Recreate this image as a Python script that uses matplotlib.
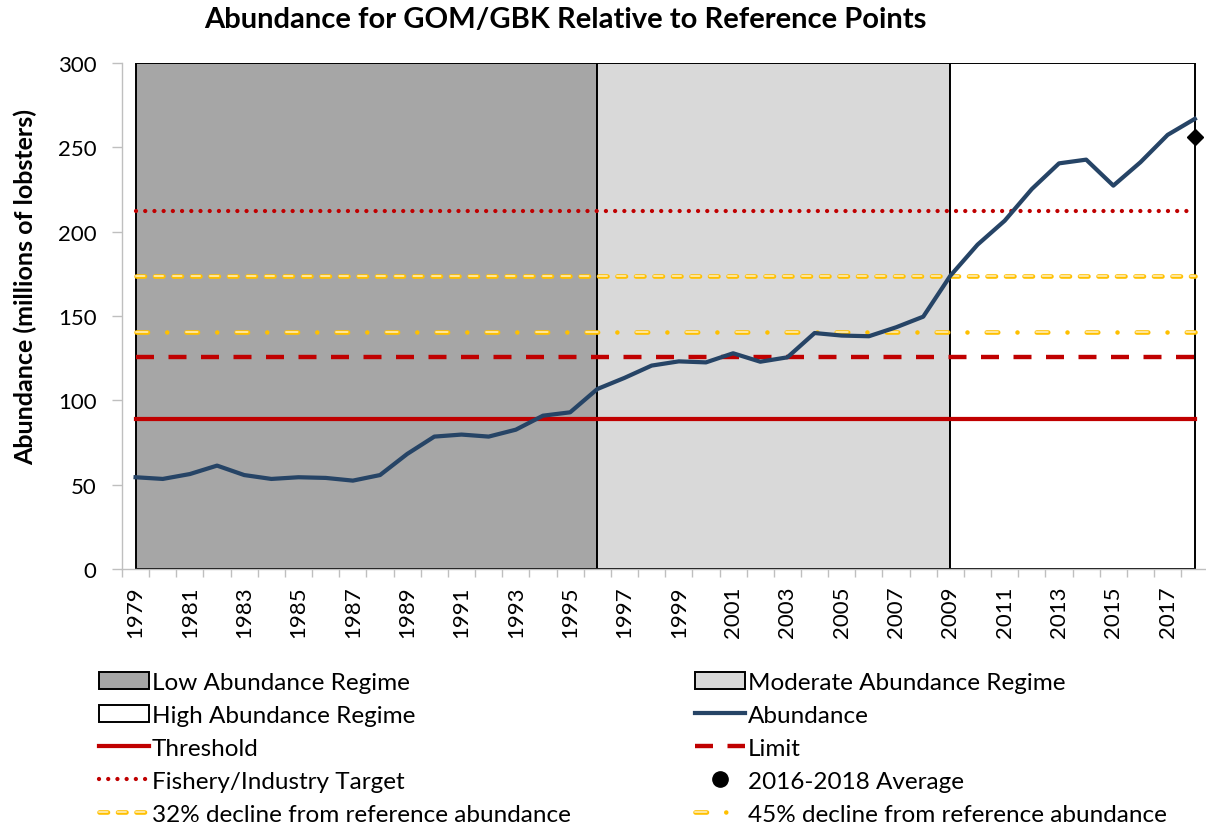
import matplotlib
matplotlib.use("Agg")
import matplotlib.pyplot as plt
from matplotlib.lines import Line2D
from matplotlib.patches import Patch
import numpy as np

plt.rcParams['font.family'] = ['Lato', 'DejaVu Sans']
plt.rcParams['lines.scale_dashes'] = False

# ---------------- data ----------------
years = list(range(1979, 2019))
abundance = [54.4, 53.4, 56.3, 61.3, 55.7, 53.4, 54.4, 54.0, 52.4, 55.7,
             68.2, 78.5, 79.7, 78.5, 82.6, 90.9, 92.9, 106.7, 113.3, 120.6,
             123.1, 122.5, 127.9, 122.9, 125.5, 139.9, 138.4, 138.0, 143.3, 149.6,
             173.9, 192.3, 206.5, 225.3, 240.5, 242.7, 227.3, 241.2, 257.4, 266.9]
threshold = 88.9
limit = 125.5
target = 212.3
decline32 = 173.9
decline45 = 140.7
avg_year = 2018
avg_value = 256.0

regime_names = ["Low Abundance Regime", "Moderate Abundance Regime", "High Abundance Regime"]
regime_start = [1979, 1996, 2009]
regime_end = [1996, 2009, 2018]
regime_colors = ['#a6a6a6', '#d9d9d9', '#ffffff']

yticks = [0, 50, 100, 150, 200, 250, 300]
xtick_labels = [str(y) for y in range(1979, 2018, 2)]

title = "Abundance for GOM/GBK Relative to Reference Points"
ylabel = "Abundance (millions of lobsters)"

# ---------------- style ----------------
NAVY = '#264466'
RED = '#c00000'
YEL = '#ffc000'
YEL_IN = '#ffe699'
GRAY = '#bfbfbf'
px = 72 / 100.0  # points per pixel

W, H = 1206, 828
fig = plt.figure(figsize=(W / 100, H / 100), dpi=100)
ax = fig.add_axes([122 / W, 1 - 570 / H, (W - 122) / W + 0.002, (570 - 64) / H])

# regime boxes
for s, e, c in zip(regime_start, regime_end, regime_colors):
    ax.bar(s, 300, width=e - s, align='edge', color=c, edgecolor='black',
           linewidth=1.4, zorder=1)

xs = np.array([years[0], years[-1]])

# 32% decline (hollow dashes)
lw_o, lw_i = 4.6 * px, 2.0 * px
pat32 = (0, (8.5 * px, 10.0 * px))
l32o, = ax.plot(xs, [decline32] * 2, color=YEL, lw=lw_o, linestyle=pat32,
                dash_capstyle='round', zorder=3)
l32i, = ax.plot(xs, [decline32] * 2, color=YEL_IN, lw=lw_i, linestyle=pat32,
                dash_capstyle='round', zorder=3)
# 45% decline (hollow dash + dot)
pat45o = (0, (11.5 * px, 19.25 * px, 0.01, 19.25 * px))
pat45i = (0, (11.5 * px, 38.5 * px + 0.01))
l45o, = ax.plot(xs, [decline45] * 2, color=YEL, lw=lw_o, linestyle=pat45o,
                dash_capstyle='round', zorder=3)
l45i, = ax.plot(xs, [decline45] * 2, color=YEL_IN, lw=lw_i, linestyle=pat45i,
                dash_capstyle='round', zorder=3)

# target dotted
ltar, = ax.plot(xs, [target] * 2, color=RED, lw=4.3 * px,
                linestyle=(0, (0.01, 9.2 * px)), dash_capstyle='round', zorder=3)
# limit dashed
llim, = ax.plot(xs, [limit] * 2, color=RED, lw=4.4 * px,
                linestyle=(0, (18 * px, 14.5 * px)), zorder=3)
# threshold
lthr, = ax.plot(xs, [threshold] * 2, color=RED, lw=4.2 * px, zorder=3)

# abundance
labn, = ax.plot(years, abundance, color=NAVY, lw=4.2 * px, zorder=4,
                solid_joinstyle='round')
# average marker
ax.plot([avg_year], [avg_value], marker='D', color='black', ms=8.2, ls='none',
        zorder=5, clip_on=False)

ax.set_xlim(1978.5, 2018.5)
ax.set_ylim(0, 300)

ax.set_yticks(yticks)
ax.set_yticklabels([str(v) for v in yticks])
ax.tick_params(axis='y', length=10 * px, width=1, color=GRAY, pad=11.0,
               labelsize=16, direction='out')

ax.set_xticks(list(range(1979, 2018, 2)))
ax.set_xticklabels(xtick_labels, rotation=90)
ax.set_xticks(np.arange(1978.5, 2019, 1.0), minor=True)
ax.tick_params(axis='x', which='major', length=0, pad=12, labelsize=16)
ax.tick_params(axis='x', which='minor', length=8 * px, width=1, color=GRAY,
               direction='out')

for sp in ['top', 'right']:
    ax.spines[sp].set_visible(False)
for sp in ['left', 'bottom']:
    ax.spines[sp].set_color(GRAY)
    ax.spines[sp].set_linewidth(1)
ax.set_facecolor('white')

fig.text(565 / W, 1 - 20 / H, title, ha='center', va='center',
         fontsize=21, fontweight='bold')
fig.text(25 / W, 1 - 287 / H, ylabel, ha='center', va='center', rotation=90,
         fontsize=18, fontweight='bold')

# ---------------- legends ----------------
p_low = Patch(facecolor=regime_colors[0], edgecolor='black', linewidth=1.4)
p_mod = Patch(facecolor=regime_colors[1], edgecolor='black', linewidth=1.4)
p_high = Patch(facecolor=regime_colors[2], edgecolor='black', linewidth=1.4)
h_avg = Line2D([], [], marker='o', color='black', ls='none', ms=11)

leg_kw = dict(frameon=False, fontsize=17.5, handlelength=2.06, handletextpad=0.12,
              labelspacing=0.49, borderpad=0, borderaxespad=0, loc='upper left',
              bbox_transform=fig.transFigure)

leg1 = fig.legend([p_low, p_high, lthr, ltar, (l32o, l32i)],
                  [regime_names[0], regime_names[2], "Threshold",
                   "Fishery/Industry Target", "32% decline from reference abundance"],
                  bbox_to_anchor=(99 / W, 1 - 673 / H), **leg_kw)
leg2 = fig.legend([p_mod, labn, llim, h_avg, (l45o, l45i)],
                  [regime_names[1], "Abundance", "Limit", "2016-2018 Average",
                   "45% decline from reference abundance"],
                  bbox_to_anchor=(695 / W, 1 - 673 / H), **leg_kw)

fig.savefig("out.png", dpi=100)
